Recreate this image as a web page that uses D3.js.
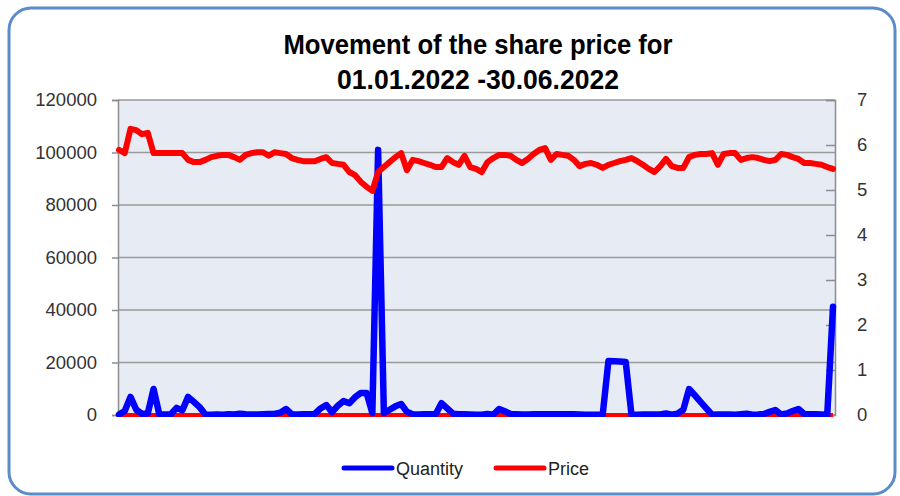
<!DOCTYPE html>
<html>
<head>
<meta charset="utf-8">
<script src="https://cdn.jsdelivr.net/npm/d3@7"></script>
<style>
  body { margin: 0; background: #fff; }
  svg { display: block; }
</style>
</head>
<body>
<div id="Data"></div>
<script>
// daily values, 01.01.2022 - 30.06.2022
const price = [
  5.89, 5.82, 6.36, 6.33, 6.24, 6.27, 5.82, 5.82, 5.82, 5.82, 5.82, 5.82, 5.67, 5.62, 5.62,
  5.67, 5.73, 5.76, 5.78, 5.78, 5.73, 5.67, 5.78, 5.82, 5.84, 5.84, 5.76, 5.84, 5.82, 5.80,
  5.71, 5.67, 5.64, 5.64, 5.64, 5.69, 5.73, 5.60, 5.58, 5.56, 5.40, 5.33, 5.18, 5.07, 4.98,
  5.40, 5.51, 5.62, 5.73, 5.82, 5.44, 5.67, 5.64, 5.60, 5.56, 5.51, 5.51, 5.71, 5.62, 5.56,
  5.76, 5.51, 5.47, 5.40, 5.62, 5.71, 5.78, 5.78, 5.76, 5.67, 5.60, 5.69, 5.80, 5.89, 5.93,
  5.67, 5.80, 5.78, 5.76, 5.67, 5.53, 5.58, 5.60, 5.56, 5.49, 5.56, 5.60, 5.64, 5.67, 5.71,
  5.64, 5.56, 5.47, 5.40, 5.53, 5.69, 5.53, 5.49, 5.49, 5.73, 5.78, 5.80, 5.80, 5.82, 5.56,
  5.80, 5.82, 5.82, 5.67, 5.71, 5.73, 5.71, 5.67, 5.64, 5.67, 5.80, 5.78, 5.73, 5.69, 5.60,
  5.60, 5.58, 5.56, 5.51, 5.47
];
const quantity = [
  200, 1500, 6900, 2000, 400, 600, 9900, 300, 200, 300, 2700, 1800, 6900, 5000, 3000,
  200, 100, 200, 100, 300, 200, 500, 300, 200, 200, 300, 400, 400, 900, 2300,
  300, 200, 300, 300, 400, 2500, 3800, 1100, 3500, 5300, 4500, 6800, 8400, 8400, 700,
  101000, 700, 2000, 3300, 4200, 1200, 300, 200, 300, 300, 300, 4500, 2500, 500, 300,
  300, 200, 100, 100, 400, 100, 2300, 1400, 400, 300, 200, 200, 300, 300, 300,
  300, 300, 300, 300, 300, 200, 100, 100, 100, 100, 20600, 20500, 20400, 20200, 100,
  100, 200, 200, 200, 200, 600, 100, 500, 2000, 9900, 7500, 5000, 2500, 100, 200,
  200, 200, 100, 300, 500, 100, 200, 400, 1200, 1900, 200, 600, 1500, 2300, 400,
  300, 300, 200, 100, 41200
];
const days = d3.range(quantity.length);
const leftTicks = [0, 20000, 40000, 60000, 80000, 100000, 120000];
const rightTicks = [0, 1, 2, 3, 4, 5, 6, 7];
const seriesNames = ["Quantity", "Price"];
const seriesColors = ["#0000FF", "#FF0000"];

const W = 900, H = 496;
const margin = {top: 100, right: 65, bottom: 81, left: 118};

const svg = d3.select("#Data").append("svg")
    .attr("width", W)
    .attr("height", H);

// chart frame
svg.append("rect")
    .attr("x", 9).attr("y", 8)
    .attr("width", 886).attr("height", 486)
    .attr("rx", 22)
    .attr("fill", "#fff")
    .attr("stroke", "#5B8BCB")
    .attr("stroke-width", 3);

const titleLines = ["Movement of the share price for", "01.01.2022 -30.06.2022"];
const titleWidths = [389, 282];
svg.append("g")
    .selectAll("text")
    .data(titleLines)
    .enter()
    .append("text")
    .attr("x", 478)
    .attr("y", (d, i) => 54 + i * 35)
    .attr("text-anchor", "middle")
    .attr("textLength", (d, i) => titleWidths[i])
    .attr("lengthAdjust", "spacingAndGlyphs")
    .style("font", "bold 27px 'Liberation Sans', Arial, sans-serif")
    .attr("fill", "#000")
    .text(d => d);

var x = d3.scalePoint()
    .domain(days)
    .range([margin.left + 1, W - margin.right - 2]);

var y = d3.scaleLinear()
    .domain([0, 120000])
    .range([H - margin.bottom, margin.top]);

var y2 = d3.scaleLinear()
    .domain([0, 7])
    .range([H - margin.bottom, margin.top]);

const plotL = margin.left, plotR = W - margin.right;

svg.append("rect")
    .attr("x", plotL).attr("y", margin.top)
    .attr("width", plotR - plotL).attr("height", H - margin.bottom - margin.top)
    .attr("fill", "#E7EBF3");

svg.append("clipPath")
    .attr("id", "plotClip")
    .append("rect")
    .attr("x", 0).attr("y", 0)
    .attr("width", W).attr("height", H - margin.bottom + 2);

// gridlines
svg.append("g")
    .selectAll("line")
    .data(leftTicks)
    .enter()
    .append("line")
    .attr("x1", plotL).attr("x2", plotR)
    .attr("y1", d => y(d)).attr("y2", d => y(d))
    .attr("stroke", "#9A9A9A")
    .attr("stroke-width", 1.5);

const leftAxis = svg.append("g")
    .attr("transform", "translate(" + plotL + ",0)")
    .call(d3.axisLeft(y).tickValues(leftTicks).tickSize(6).tickPadding(15).tickFormat(d3.format("d")));

const rightAxis = svg.append("g")
    .attr("transform", "translate(" + plotR + ",0)")
    .call(d3.axisRight(y2).tickValues(rightTicks).tickSize(-9).tickPadding(22).tickFormat(d3.format("d")));

[leftAxis, rightAxis].forEach(function(a) {
    a.select(".domain").attr("stroke", "#8C8C8C").attr("stroke-width", 1.5);
    a.selectAll(".tick line").attr("stroke", "#8C8C8C").attr("stroke-width", 1.5);
    a.selectAll("text")
        .style("font", "18.5px 'Liberation Sans', Arial, sans-serif")
        .attr("fill", "#333");
});

var line1 = d3.line()
    .x(function(d, i) { return x(days[i]); })
    .y(function(d) { return y(d); });

var line2 = d3.line()
    .x(function(d, i) { return x(days[i]); })
    .y(function(d) { return y2(d); });

const lines = svg.append("g").attr("clip-path", "url(#plotClip)");

// price also lies on the primary axis, flat at the bottom (mostly hidden by quantity)
lines.append("path")
    .datum(price)
    .attr("d", line1)
    .attr("fill", "none")
    .attr("stroke", seriesColors[1])
    .attr("stroke-width", 4)
    .attr("stroke-linejoin", "round");

lines.append("path")
    .datum(quantity)
    .attr("d", line1)
    .attr("fill", "none")
    .attr("stroke", seriesColors[0])
    .attr("stroke-width", 6.5)
    .attr("stroke-linejoin", "round")
    .attr("stroke-linecap", "round");

lines.append("path")
    .datum(price)
    .attr("d", line2)
    .attr("fill", "none")
    .attr("stroke", seriesColors[1])
    .attr("stroke-width", 6)
    .attr("stroke-linejoin", "round")
    .attr("stroke-linecap", "round");

// legend
const legendX = [344, 496];
const legend = svg.append("g")
    .selectAll("g")
    .data(seriesNames)
    .enter()
    .append("g")
    .attr("transform", (d, i) => "translate(" + legendX[i] + ",468)");

legend.append("line")
    .attr("x1", 0).attr("x2", 48)
    .attr("stroke", (d, i) => seriesColors[i])
    .attr("stroke-width", 5)
    .attr("stroke-linecap", "round");

legend.append("text")
    .attr("x", 52).attr("y", 6.5)
    .style("font", "18px 'Liberation Sans', Arial, sans-serif")
    .attr("fill", "#222")
    .text(d => d);
</script>
</body>
</html>
